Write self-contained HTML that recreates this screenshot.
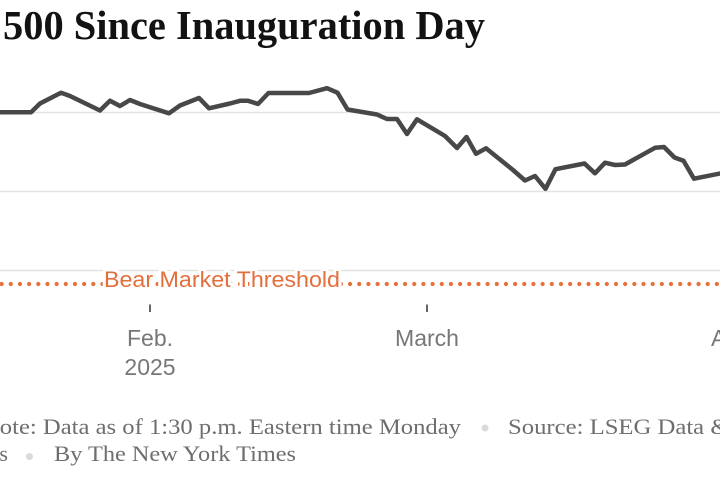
<!DOCTYPE html>
<html>
<head>
<meta charset="utf-8">
<style>
  html, body { margin: 0; padding: 0; background: #fff; }
  body { width: 720px; height: 480px; overflow: hidden; }
  svg { display: block; }
</style>
</head>
<body>
<svg width="720" height="480" viewBox="0 0 720 480" xmlns="http://www.w3.org/2000/svg">
  <rect width="720" height="480" fill="#fff"/>

  <!-- Title -->
  <text x="3" y="39" font-family="'Liberation Serif', serif" font-weight="bold" font-size="41" fill="#121212" textLength="482" lengthAdjust="spacingAndGlyphs">500 Since Inauguration Day</text>

  <!-- Gridlines -->
  <g stroke="#e3e3e3" stroke-width="1.5">
    <line x1="0" y1="112.5" x2="720" y2="112.5"/>
    <line x1="0" y1="191.5" x2="720" y2="191.5"/>
    <line x1="0" y1="270.5" x2="720" y2="270.5"/>
  </g>

  <!-- Bear market dotted line -->
  <line x1="1.6" y1="284" x2="725" y2="284" stroke="#e8703a" stroke-width="4.2" stroke-linecap="round" stroke-dasharray="0 9.17"/>

  <!-- Bear market label with white halo -->
  <text x="104" y="287" font-family="'Liberation Sans', sans-serif" font-size="22" fill="#e36f3c" stroke="#fff" stroke-width="6" stroke-linejoin="round" paint-order="stroke" textLength="236" lengthAdjust="spacingAndGlyphs">Bear Market Threshold</text>

  <!-- Series line -->
  <polyline fill="none" stroke="#484848" stroke-width="4.5" stroke-linejoin="round" stroke-linecap="round"
    points="-5,112.3 31,112.3 40,103.5 61,92.7 70,96 100,110.5 110,100.7 120,106 130,100 140,104 150,107.3 169,113.3 180,105.5 199,98 209,108.3 230,103.5 240,100.8 248,100.7 258,104 268.5,93 309,93 327,88.2 337.5,92.7 347.5,109.5 377,114.5 387,119 397,119 407,134 417,119.3 445,136 457,148 466.5,137 476,153.8 486,148.3 513,170 525,180.5 535,176 545.5,188.8 555.5,169.2 584.5,163.5 595,173.3 605,162.7 615,165 625,164.5 655,147.8 664,147 674.5,157.5 683.5,160.7 694,178.7 725,172.5"/>

  <!-- Ticks -->
  <g stroke="#333" stroke-width="1.5">
    <line x1="150" y1="304.5" x2="150" y2="312"/>
    <line x1="427" y1="304.5" x2="427" y2="312"/>
    <line x1="734" y1="304.5" x2="734" y2="312"/>
  </g>

  <!-- Axis labels -->
  <g font-family="'Liberation Sans', sans-serif" font-size="23" fill="#777" text-anchor="middle">
    <text x="150" y="346">Feb.</text>
    <text x="150" y="375">2025</text>
    <text x="427" y="346">March</text>
    <text x="734" y="346">April</text>
  </g>

  <!-- Footer -->
  <g font-family="'Liberation Serif', serif" font-size="22" fill="#6e6e6e">
    <text x="-18" y="434" textLength="479" lengthAdjust="spacingAndGlyphs">Note: Data as of 1:30 p.m. Eastern time Monday</text>
    <text x="508" y="434" textLength="321" lengthAdjust="spacingAndGlyphs">Source: LSEG Data &amp; Analytics</text>
    <text x="8" y="461" text-anchor="end">Analytics</text>
    <text x="54" y="461" textLength="242" lengthAdjust="spacingAndGlyphs">By The New York Times</text>
  </g>
  <g fill="#dadada">
    <circle cx="485" cy="428" r="3.5"/>
    <circle cx="29.5" cy="456.5" r="3.5"/>
  </g>
</svg>
</body>
</html>
